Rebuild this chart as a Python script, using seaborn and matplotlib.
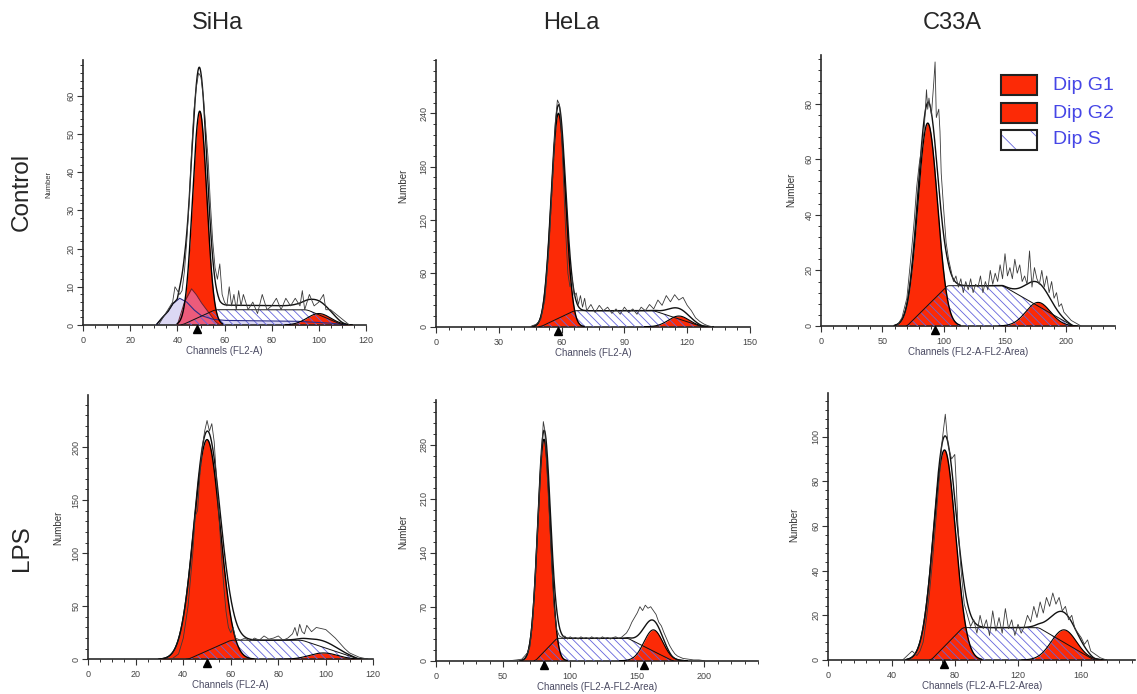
import numpy as np
import matplotlib
matplotlib.use("Agg")
import matplotlib.pyplot as plt
import matplotlib.transforms as mtransforms
from matplotlib.patches import Rectangle
from matplotlib.ticker import MultipleLocator, AutoMinorLocator
import seaborn as sns

# panel order: SiHa ctrl, HeLa ctrl, C33A ctrl, SiHa LPS, HeLa LPS, C33A LPS
cell_lines = ["SiHa", "HeLa", "C33A"]
treatments = ["Control", "LPS"]
x_titles = ["Channels (FL2-A)", "Channels (FL2-A)", "Channels (FL2-A-FL2-Area)",
            "Channels (FL2-A)", "Channels (FL2-A-FL2-Area)", "Channels (FL2-A-FL2-Area)"]
x_max = [120, 150, 240, 120, 240, 194]
y_max = [69.4, 300, 97.5, 249, 338, 119.5]
x_step = [20, 30, 50, 20, 50, 40]
x_minor = [4, 5, 5, 4, 5, 5]
y_step = [10, 60, 20, 50, 70, 20]

# fitted components
g1_mean = [49.5, 58.5, 87, 50, 80.5, 73.5]
g1_peak = [56, 240, 73, 207, 287, 94]
g1_sd = [3.0, 3.4, 8.0, 5.5, 4.7, 7.0]
g2_mean = [100, 116, 177, 99, 162, 149]
g2_peak = [3, 12, 8.5, 6, 40, 13.5]
g2_sd = [5, 5, 10, 6, 7, 8]
s_edges = [[42, 56, 95, 110], [50, 66, 104, 127], [70, 103, 148, 205],
           [42, 60, 90, 114], [74, 90, 143, 176], [65, 85, 133, 168]]
s_level = [4, 18, 14.5, 18, 29, 14.5]
markers = [[48.5], [58.4], [93], [50], [80.4, 155], [73]]

# SiHa control extra components (debris + aggregates)
debris_x = [31, 33, 36, 38, 41, 44, 47, 50, 55, 60, 90, 105, 112]
debris_y = [0, 1.5, 3.5, 5.5, 7, 6, 4, 2.5, 1.5, 1.2, 1, 0.5, 0]
agg_x = [40, 43, 46, 48, 50, 53, 56, 58]
agg_y = [0, 6, 9.5, 8, 6, 3.5, 1, 0]

# raw histograms
raw_siha_ctrl_x = [32, 34, 36, 38, 39, 40, 41, 42, 43, 44, 45, 46, 47, 48, 49, 50, 51, 52, 53, 54,
                   55, 56, 57, 58, 59, 60, 61, 62, 63, 64, 65, 66, 67, 68, 70, 72, 74, 76, 78, 80,
                   82, 84, 86, 88, 90, 92, 93, 94, 96, 98, 100, 102, 103, 105, 107, 109, 111, 113]
raw_siha_ctrl_y = [0, 2, 4, 6, 10, 9, 8, 9, 14, 22, 32, 45, 56, 62, 66, 65, 60, 52, 44, 32,
                   22, 15, 12, 16, 8, 6, 5, 10, 5, 8, 4, 9, 5, 8, 4, 6, 3, 8, 4, 5,
                   7, 4, 7, 5, 7, 5, 9, 4, 8, 5, 6, 8, 4, 4, 3, 2, 1, 0]
raw_hela_ctrl_x = [45, 48, 50, 52, 54, 56, 57, 58, 59, 60, 61, 62, 63, 64, 65, 66, 67, 68, 69, 70,
                   71, 72, 74, 76, 78, 80, 82, 84, 86, 88, 90, 92, 94, 96, 98, 100, 102, 104, 106, 108,
                   110, 112, 114, 116, 118, 120, 122, 124, 126, 128, 130, 132]
raw_hela_ctrl_y = [0, 3, 8, 30, 90, 180, 230, 255, 250, 215, 160, 105, 60, 45, 55, 35, 38, 25, 35, 22,
                   32, 18, 25, 16, 24, 18, 22, 15, 20, 14, 22, 16, 20, 14, 22, 18, 25, 20, 30, 24,
                   35, 28, 36, 30, 33, 24, 18, 10, 6, 3, 1, 0]
raw_c33a_ctrl_x = [62, 66, 70, 74, 76, 78, 80, 82, 84, 86, 87, 88, 90, 92, 93, 94, 96, 97, 98, 100,
                   102, 104, 106, 108, 110, 112, 114, 116, 118, 120, 122, 124, 126, 128, 130, 132, 134, 136, 138, 140,
                   142, 144, 146, 148, 150, 152, 154, 156, 158, 160, 162, 164, 166, 168, 170, 172, 174, 176, 178, 180,
                   182, 184, 186, 188, 190, 192, 194, 196, 198, 200, 204, 208, 212]
raw_c33a_ctrl_y = [0, 3, 10, 28, 38, 50, 58, 64, 70, 85, 78, 82, 76, 88, 95, 75, 78, 70, 55, 42,
                   30, 24, 20, 16, 18, 14, 17, 12, 16, 13, 17, 12, 15, 14, 18, 12, 16, 13, 20, 15,
                   19, 16, 22, 17, 26, 18, 21, 17, 24, 19, 22, 16, 18, 15, 27, 14, 21, 17, 15, 20,
                   14, 18, 12, 16, 10, 12, 7, 8, 5, 4, 2, 1, 0]
raw_siha_lps_x = [35, 38, 40, 42, 44, 45, 46, 47, 48, 49, 50, 51, 52, 53, 54, 55, 56, 57, 58, 59,
                  60, 61, 62, 64, 66, 68, 70, 72, 74, 76, 78, 80, 82, 84, 86, 87, 88, 89, 90, 91,
                  92, 94, 96, 98, 100, 102, 104, 106, 108, 110, 112, 114, 116, 118]
raw_siha_lps_y = [0, 5, 20, 50, 100, 135, 140, 175, 200, 215, 225, 215, 222, 205, 170, 135, 100, 70, 45, 30,
                  25, 30, 20, 18, 20, 17, 20, 18, 22, 19, 20, 22, 18, 20, 24, 30, 22, 33, 26, 24,
                  32, 26, 30, 29, 28, 24, 20, 15, 10, 6, 4, 2, 1, 0]
raw_hela_lps_x = [55, 60, 64, 68, 70, 72, 74, 76, 78, 80, 81, 82, 84, 86, 88, 90, 92, 94, 96, 98,
                  100, 102, 104, 106, 108, 110, 112, 114, 116, 118, 120, 122, 124, 126, 128, 130, 132, 134, 136, 138,
                  140, 142, 144, 146, 148, 150, 152, 154, 156, 158, 160, 162, 164, 166, 168, 170, 172, 174, 176, 178,
                  180, 184, 188, 192, 196, 200]
raw_hela_lps_y = [0, 1, 2, 10, 18, 50, 110, 180, 250, 310, 300, 270, 205, 135, 70, 40, 32, 30, 32, 28,
                  31, 29, 30, 28, 31, 29, 30, 28, 31, 29, 30, 28, 31, 29, 30, 28, 30, 31, 29, 30,
                  33, 36, 42, 50, 56, 62, 70, 65, 72, 68, 70, 65, 60, 50, 45, 36, 28, 20, 14, 9,
                  6, 3, 2, 1, 1, 0]
raw_c33a_lps_x = [47, 50, 53, 56, 58, 60, 62, 64, 66, 68, 70, 72, 74, 75, 76, 78, 80, 81, 82, 84,
                  86, 88, 90, 92, 94, 96, 98, 100, 102, 104, 106, 108, 110, 112, 114, 116, 118, 120, 122, 124,
                  126, 128, 130, 132, 134, 136, 138, 140, 142, 144, 146, 148, 150, 152, 154, 156, 158, 160, 162, 164,
                  166, 168, 172, 176]
raw_c33a_lps_y = [0, 2, 4, 2, 4, 8, 18, 30, 45, 62, 80, 98, 110, 102, 95, 90, 92, 78, 60, 40,
                  25, 20, 15, 18, 12, 20, 14, 18, 11, 22, 13, 19, 12, 23, 14, 18, 11, 16, 12, 15,
                  20, 17, 24, 19, 26, 21, 28, 24, 30, 25, 28, 22, 24, 18, 20, 14, 12, 10, 7, 9,
                  4, 3, 1, 0]

raw_x = [raw_siha_ctrl_x, raw_hela_ctrl_x, raw_c33a_ctrl_x, raw_siha_lps_x, raw_hela_lps_x, raw_c33a_lps_x]
raw_y = [raw_siha_ctrl_y, raw_hela_ctrl_y, raw_c33a_ctrl_y, raw_siha_lps_y, raw_hela_lps_y, raw_c33a_lps_y]

sns.set_style("ticks")
plt.rcParams['font.family'] = ['Liberation Sans', 'DejaVu Sans']
plt.rcParams['hatch.linewidth'] = 0.6

RED = '#fc2a06'
HATCH = '#6464dc'
W, H = 1137, 694
fig = plt.figure(figsize=(W / 100, H / 100), dpi=100)


def px_rect(l, r, b, t):
    return [l / W, 1 - b / H, (r - l) / W, (b - t) / H]


panel_boxes = [px_rect(83, 366, 325, 60), px_rect(436, 750, 326.7, 60), px_rect(821, 1115.4, 326, 55),
               px_rect(88.3, 373.3, 659.3, 395), px_rect(436, 758, 660.7, 400), px_rect(828.3, 1135, 660, 393)]
ylabel_pos = [(52, 184), (408, 186), (796, 190), (63, 528), (408, 532), (799, 525)]
ylabel_size = [5.5, 7, 7, 7, 7, 7]

for i in range(6):
    ax = fig.add_axes(panel_boxes[i])
    x = np.linspace(0, x_max[i], 1500)
    g1 = g1_peak[i] * np.exp(-0.5 * ((x - g1_mean[i]) / g1_sd[i]) ** 2)
    g2 = g2_peak[i] * np.exp(-0.5 * ((x - g2_mean[i]) / g2_sd[i]) ** 2)
    s = np.interp(x, s_edges[i], [0, s_level[i], s_level[i], 0])
    k = max(1, int(3 / (x[1] - x[0])))
    s = np.convolve(s, np.ones(k) / k, mode='same')
    total = g1 + g2 + s

    if i == 0:
        deb = np.interp(x, debris_x, debris_y, left=0, right=0)
        agg = np.interp(x, agg_x, agg_y, left=0, right=0)
        total = total + deb + agg
        ax.fill_between(x, 0, deb, where=deb > 0.05, color='#dcd8f4', lw=0, zorder=1)
        ax.plot(x[deb > 0.05], deb[deb > 0.05], color='#2c2c88', lw=0.8, zorder=4)

    ax.fill_between(x, 0, g1, where=g1 > 0.3, color=RED, lw=0, zorder=2)
    ax.fill_between(x, 0, g2, where=g2 > 0.05, color=RED, lw=0, zorder=2)
    if i == 0:
        ax.fill_between(x, 0, agg, where=agg > 0.05, color='#ec5b7b', lw=0, zorder=2.5)
        ax.plot(x[agg > 0.05], agg[agg > 0.05], color='#6a2030', lw=0.7, zorder=4)
    ax.fill_between(x, 0, s, where=s > 0.05, facecolor='none', edgecolor=HATCH,
                    hatch='\\\\\\\\', lw=0, zorder=3)

    m1 = g1 > 0.3
    ax.plot(x[m1], g1[m1], color='k', lw=1.0, zorder=4)
    m2 = g2 > 0.05
    ax.plot(x[m2], g2[m2], color='k', lw=0.8, zorder=4)
    ms = s > 0.05
    ax.plot(x[ms], s[ms], color='#111111', lw=0.7, zorder=4)

    mt = total > 0.2
    sns.lineplot(x=x[mt], y=total[mt], ax=ax, color='#111111', lw=1.0,
                 estimator=None, sort=False, zorder=5)
    sns.lineplot(x=raw_x[i], y=raw_y[i], ax=ax, color='#3a3a3a', lw=0.6,
                 estimator=None, sort=False, zorder=5)

    trans = mtransforms.offset_copy(ax.get_xaxis_transform(), fig=fig, y=-4, units='dots')
    ax.plot(markers[i], [0] * len(markers[i]), ls='none', marker='^', ms=5.5,
            color='k', transform=trans, clip_on=False, zorder=6)

    ax.set_xlim(0, x_max[i])
    ax.xaxis.set_major_locator(MultipleLocator(x_step[i]))
    ax.xaxis.set_minor_locator(AutoMinorLocator(x_minor[i]))
    ax.yaxis.set_major_locator(MultipleLocator(y_step[i]))
    ax.set_ylim(0, y_max[i])
    ax.set_yticks([t for t in ax.get_yticks() if 0 <= t <= y_max[i] - y_step[i] * 0.4])
    ax.yaxis.set_minor_locator(AutoMinorLocator(5))
    ax.set_ylim(0, y_max[i])
    sns.despine(ax=ax)
    for sp in ['left', 'bottom']:
        ax.spines[sp].set_linewidth(1.2)
        ax.spines[sp].set_color('#2a2a2a')
    ax.tick_params(which='major', direction='out', length=4, width=0.8, color='#333333',
                   labelsize=6.5, labelcolor='#444444', pad=1.5)
    ax.tick_params(axis='x', which='major', pad=4)
    ax.tick_params(which='minor', direction='out', length=2.5, width=0.7, color='#333333')
    ax.tick_params(axis='y', labelrotation=90)
    for t in ax.get_yticklabels():
        t.set_verticalalignment('center')

    ax.set_xlabel(x_titles[i], fontsize=7, color='#4a4a62', labelpad=0.5)
    ax.set_ylabel('Number', fontsize=ylabel_size[i], color='#333333')
    lx, ly = ylabel_pos[i]
    ax.yaxis.set_label_coords(lx / W, 1 - ly / H, transform=fig.transFigure)

# column and row titles
for name, cx in zip(cell_lines, [218, 571, 952]):
    fig.text(cx / W, 1 - 23 / H, name, fontsize=17, ha='center', va='center')
for name, cy in zip(treatments, [192, 548]):
    fig.text(22 / W, 1 - cy / H, name, fontsize=17.5, rotation=90, ha='center', va='center')

# legend drawn in figure space
leg_labels = ["Dip G1", "Dip G2", "Dip S"]
leg_tops = [75, 103, 130]
for lab, top in zip(leg_labels, leg_tops):
    x0, y0 = 1001 / W, 1 - (top + 20) / H
    w, h = 36 / W, 20 / H
    if lab == "Dip S":
        fig.add_artist(Rectangle((x0, y0), w, h, transform=fig.transFigure, facecolor='white',
                                 edgecolor=HATCH, hatch='\\', lw=0))
        fig.add_artist(Rectangle((x0, y0), w, h, transform=fig.transFigure, fill=False,
                                 edgecolor='#222222', lw=1.5))
    else:
        fig.add_artist(Rectangle((x0, y0), w, h, transform=fig.transFigure, facecolor=RED,
                                 edgecolor='#222222', lw=1.5))
    fig.text(1053 / W, 1 - (top + 10) / H, lab, fontsize=14, color='#4646e6', va='center', ha='left')

fig.savefig('out.png', dpi=100)
